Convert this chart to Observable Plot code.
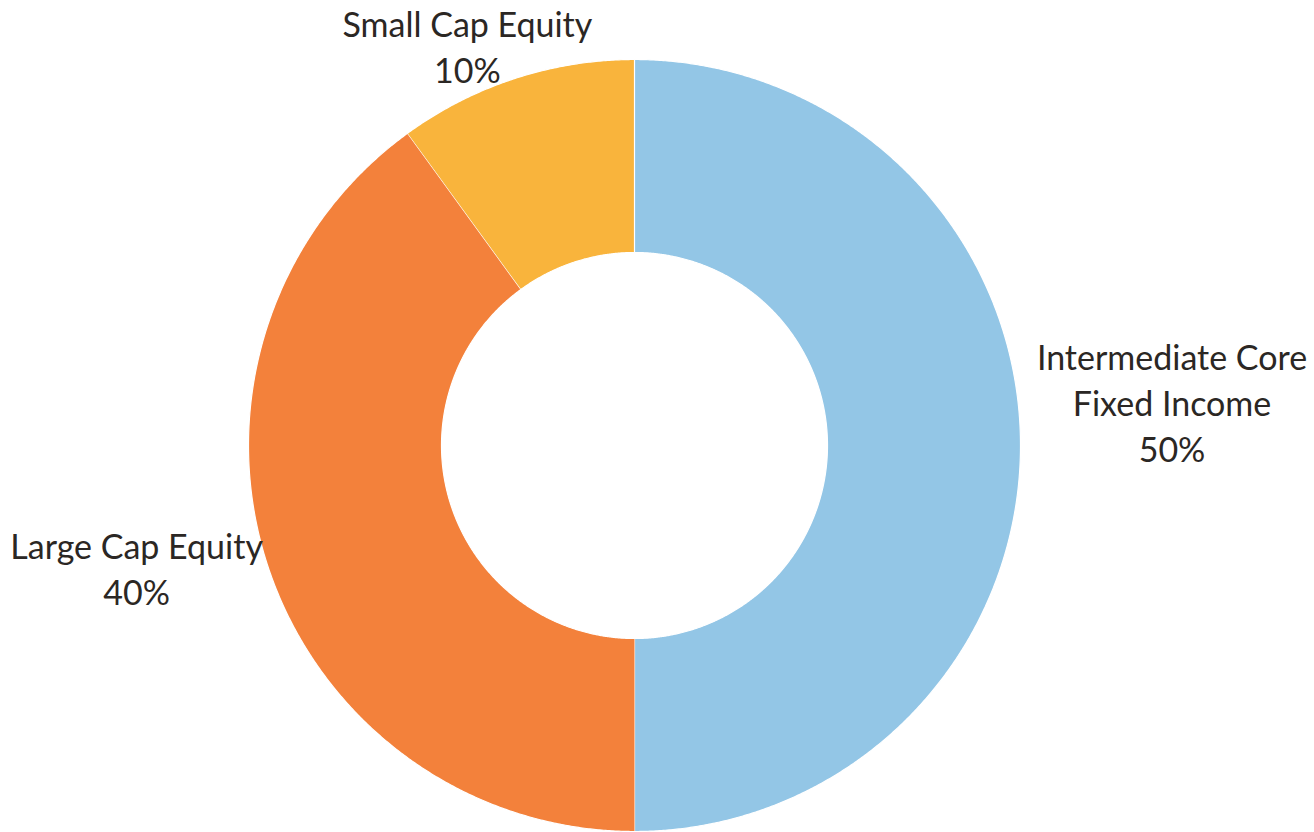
<!DOCTYPE html>
<html>
<head>
<meta charset="utf-8">
<script src="https://cdn.jsdelivr.net/npm/d3@7"></script>
<script src="https://cdn.jsdelivr.net/npm/@observablehq/plot@0.6"></script>
<style>
  html, body { margin: 0; padding: 0; background: #ffffff; }
  #chart { width: 1314px; height: 832px; }
</style>
</head>
<body>
<div id="chart"></div>
<script>
// ---- data ----
const categories = ["Intermediate Core Fixed Income", "Large Cap Equity", "Small Cap Equity"];
const labelLines = ["Intermediate Core\nFixed Income", "Large Cap Equity", "Small Cap Equity"];
const values = [50, 40, 10];
const colors = ["#93C6E6", "#F3813B", "#F9B43C"];

// ---- geometry derived from the data ----
const innerRatio = 0.5;
const arcs = d3.pie().sort(null).value(d => d)(values);
const slicePoints = [];
arcs.forEach((a, i) => {
  const n = Math.max(4, Math.ceil((a.endAngle - a.startAngle) / 0.005));
  for (let k = 0; k <= n; k++) {
    const t = a.startAngle + (a.endAngle - a.startAngle) * k / n;
    slicePoints.push({cat: categories[i], x: Math.sin(t), y: Math.cos(t)});
  }
  for (let k = n; k >= 0; k--) {
    const t = a.startAngle + (a.endAngle - a.startAngle) * k / n;
    slicePoints.push({cat: categories[i], x: innerRatio * Math.sin(t), y: innerRatio * Math.cos(t)});
  }
});
const labels = arcs.map((a, i) => {
  const m = (a.startAngle + a.endAngle) / 2;
  const total = d3.sum(values);
  return {
    cat: categories[i],
    text: labelLines[i] + "\n" + Math.round(values[i] / total * 100) + "%",
    x: 1.25 * Math.sin(m),
    y: 1.25 * Math.cos(m)
  };
});

const font = {fontFamily: "Lato, 'Open Sans', sans-serif", fontSize: 34, lineHeight: 1.35, fill: "#2b2724"};

const plot = Plot.plot({
  width: 1314,
  height: 832,
  margin: 0,
  style: {background: "#ffffff", overflow: "visible"},
  x: {domain: [-1, 1], range: [248, 1020], axis: null},
  y: {domain: [-1, 1], range: [831, 59], axis: null},
  color: {domain: categories, range: colors},
  marks: [
    Plot.line(slicePoints, {x: "x", y: "y", z: "cat", fill: "cat", stroke: "#ffffff", strokeWidth: 1.2, curve: "linear"}),
    Plot.text(labels.filter(d => d.cat === categories[0]), {x: "x", y: "y", text: "text", dx: 55, dy: -44, ...font}),
    Plot.text(labels.filter(d => d.cat === categories[1]), {x: "x", y: "y", text: "text", dx: -39, dy: -27, ...font}),
    Plot.text(labels.filter(d => d.cat === categories[2]), {x: "x", y: "y", text: "text", dx: -18, dy: 59, ...font})
  ]
});
document.getElementById("chart").appendChild(plot);
</script>
</body>
</html>
